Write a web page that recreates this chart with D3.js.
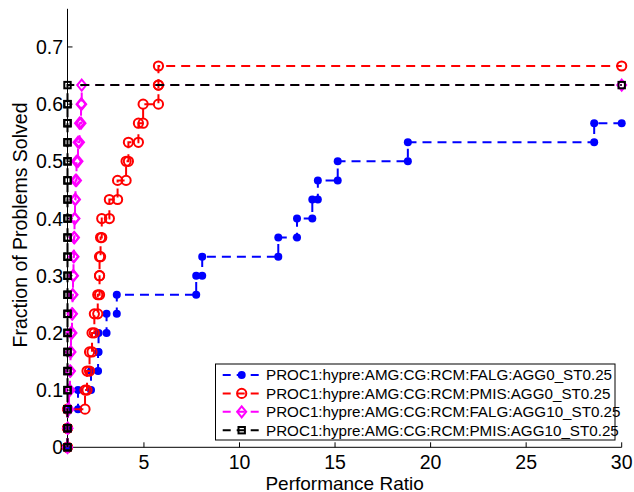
<!DOCTYPE html>
<html>
<head>
<meta charset="utf-8">
<script src="https://cdn.jsdelivr.net/npm/d3@7"></script>
<style>
  html, body { margin: 0; padding: 0; background: #fff; }
  svg { display: block; }
  text { font-family: "Liberation Sans", Arial, Helvetica, sans-serif; fill: #000; }
</style>
</head>
<body>
<svg id="chart" width="634" height="492"></svg>
<script>
// Performance profile: fraction of the 30 problems solved within a given ratio of the best time.
const fractions = [0, 0.0333, 0.0667, 0.1, 0.1333, 0.1667, 0.2, 0.2333, 0.2667, 0.3, 0.3333,
                   0.3667, 0.4, 0.4333, 0.4667, 0.5, 0.5333, 0.5667, 0.6, 0.6333, 0.6667];

// Ratio at which each successive fraction level is reached (level k uses fractions[k]).
const ratiosFalgAgg0 = [1, 1, 1, 1.55, 2.23, 2.60, 2.625, 3.044, 3.579, 7.735, 8.049,
                        12.03, 13.01, 13.81, 14.10, 15.14, 18.81, 28.56];
const ratiosPmisAgg0 = [1, 1, 1, 1.917, 2.022, 2.153, 2.284, 2.405, 2.583, 2.677, 2.677,
                        2.730, 2.792, 3.191, 3.621, 4.066, 4.187, 4.711, 4.957, 5.759, 5.759];
const ratiosFalgAgg10 = [1, 1, 1.026, 1.079, 1.131, 1.157, 1.183, 1.236, 1.262, 1.288, 1.314,
                         1.341, 1.367, 1.393, 1.419, 1.472, 1.550, 1.629, 1.708, 1.744];
const ratiosPmisAgg10 = [1, 1, 1, 1, 1, 1, 1, 1, 1, 1, 1, 1, 1, 1, 1, 1, 1, 1, 1, 1];

const seriesNames = [
  "PROC1:hypre:AMG:CG:RCM:FALG:AGG0_ST0.25",
  "PROC1:hypre:AMG:CG:RCM:PMIS:AGG0_ST0.25",
  "PROC1:hypre:AMG:CG:RCM:FALG:AGG10_ST0.25",
  "PROC1:hypre:AMG:CG:RCM:PMIS:AGG10_ST0.25"
];
const seriesColors = ["#0000ff", "#ff0000", "#ff00ff", "#000000"];
const seriesMarkers = ["dot", "circle", "diamond", "square"];

const xTicks = [5, 10, 15, 20, 25, 30];
const yTicks = [0, 0.1, 0.2, 0.3, 0.4, 0.5, 0.6, 0.7];
const xDomain = [1, 30];
const yDomain = [0, 0.7667];

const svg = d3.select("#chart");
const x = d3.scaleLinear().domain(xDomain).range([67.5, 621.7]);
const y = d3.scaleLinear().domain(yDomain).range([447.3, 8.8]);

const series = [ratiosFalgAgg0, ratiosPmisAgg0, ratiosFalgAgg10, ratiosPmisAgg10].map((r, i) => {
  // Stair vertices: horizontal to the next ratio, then vertical to the next level.
  const pts = [];
  r.forEach((rv, k) => {
    if (k > 0) pts.push([rv, fractions[k - 1]]);
    pts.push([rv, fractions[k]]);
  });
  pts.push([xDomain[1], fractions[r.length - 1]]);
  return { name: seriesNames[i], color: seriesColors[i], marker: seriesMarkers[i], pts };
});

function drawMarker(g, type, color, cx, cy) {
  if (type === "dot") {
    g.append("circle").attr("cx", cx).attr("cy", cy).attr("r", 4).attr("fill", color);
  } else if (type === "circle") {
    g.append("circle").attr("cx", cx).attr("cy", cy).attr("r", 4.6)
      .attr("fill", "none").attr("stroke", color).attr("stroke-width", 2);
  } else if (type === "diamond") {
    g.append("path")
      .attr("d", `M${cx},${cy - 5.5}L${cx + 4.5},${cy}L${cx},${cy + 5.5}L${cx - 4.5},${cy}Z`)
      .attr("fill", "none").attr("stroke", color).attr("stroke-width", 2);
  } else {
    g.append("rect").attr("x", cx - 3.2).attr("y", cy - 3.2).attr("width", 6.4).attr("height", 6.4)
      .attr("fill", "none").attr("stroke", color).attr("stroke-width", 2);
  }
}

// Axes (left and bottom only, ticks pointing inward)
const axes = svg.append("g");
axes.append("line").attr("x1", x(1)).attr("x2", x(30)).attr("y1", y(0)).attr("y2", y(0))
  .attr("stroke", "#000").attr("stroke-width", 1);
axes.append("line").attr("x1", x(1)).attr("x2", x(1)).attr("y1", y(0)).attr("y2", y(yDomain[1]))
  .attr("stroke", "#000").attr("stroke-width", 1);
xTicks.forEach(t => {
  axes.append("line").attr("x1", x(t)).attr("x2", x(t)).attr("y1", y(0)).attr("y2", y(0) - 5)
    .attr("stroke", "#000");
  axes.append("text").attr("x", x(t)).attr("y", 468.8).attr("text-anchor", "middle")
    .attr("font-size", 19.5).text(t);
});
yTicks.forEach(t => {
  axes.append("line").attr("x1", x(1)).attr("x2", x(1) + 5).attr("y1", y(t)).attr("y2", y(t))
    .attr("stroke", "#000");
  axes.append("text").attr("x", 63).attr("y", y(t) + 7).attr("text-anchor", "end")
    .attr("font-size", 19.5).text(t === 0 ? "0" : t.toFixed(1));
});
axes.append("text").attr("x", (x(1) + x(30)) / 2).attr("y", 489.5).attr("text-anchor", "middle")
  .attr("font-size", 19).text("Performance Ratio");
axes.append("text").attr("transform", "translate(27,225) rotate(-90)").attr("text-anchor", "middle")
  .attr("font-size", 19.5).text("Fraction of Problems Solved");

// Series: dashed stairs with a marker at every vertex
const line = d3.line().x(d => x(d[0])).y(d => y(d[1]));
series.forEach(s => {
  const g = svg.append("g");
  g.append("path").attr("d", line(s.pts)).attr("fill", "none").attr("stroke", s.color)
    .attr("stroke-width", 2).attr("stroke-dasharray", "9,6");
  s.pts.forEach(p => drawMarker(g, s.marker, s.color, x(p[0]), y(p[1])));
});

// Legend
const lg = svg.append("g");
lg.append("rect").attr("x", 215.5).attr("y", 364).attr("width", 399.5).attr("height", 76)
  .attr("fill", "#fff").attr("stroke", "#000").attr("stroke-width", 1);
series.forEach((s, i) => {
  const cy = 375 + i * 18.4;
  lg.append("line").attr("x1", 222.7).attr("x2", 260.7).attr("y1", cy).attr("y2", cy)
    .attr("stroke", s.color).attr("stroke-width", 2).attr("stroke-dasharray", "8,6");
  drawMarker(lg, s.marker, s.color, 241.7, cy);
  lg.append("text").attr("x", 266).attr("y", cy + 5.3).attr("font-size", 15.2).text(s.name);
});
</script>
</body>
</html>
